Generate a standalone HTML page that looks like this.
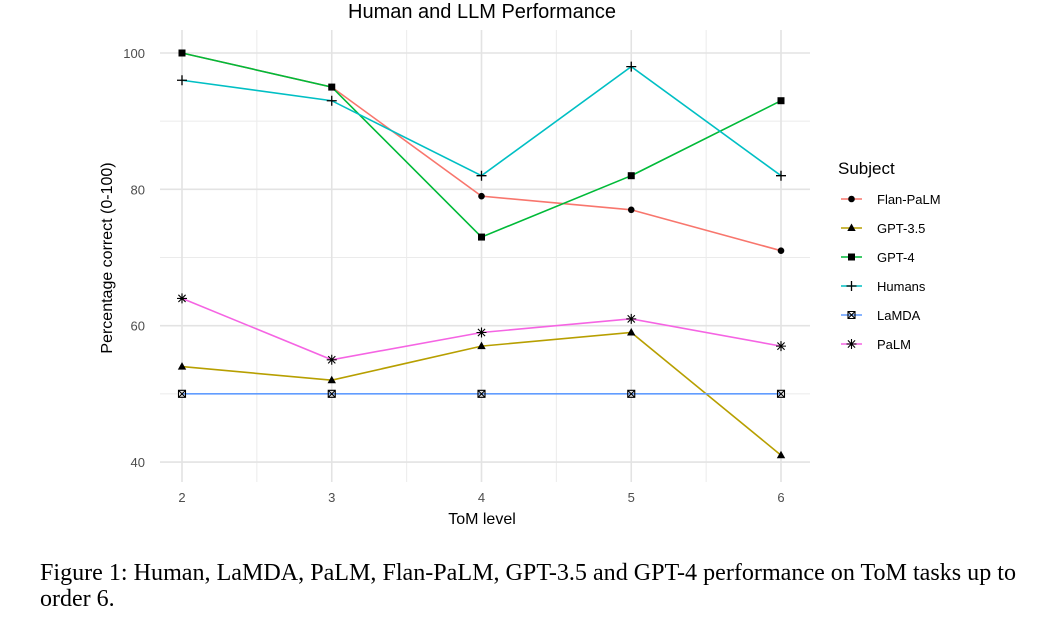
<!DOCTYPE html>
<html><head><meta charset="utf-8"><style>
body{margin:0;background:#fff;width:1050px;height:628px;overflow:hidden}
svg text{font-family:"Liberation Sans",sans-serif}
</style></head><body>
<svg width="1050" height="628">
<g id="grid"></g>
<g id="series"></g>
<text x="482" y="18" text-anchor="middle" font-size="20" fill="#000">Human and LLM Performance</text>
<text x="482" y="524" text-anchor="middle" font-size="16">ToM level</text>
<text transform="translate(112,258) rotate(-90)" text-anchor="middle" font-size="16">Percentage correct (0-100)</text>
<g id="legend"></g>
<text x="40" y="580" font-size="24" textLength="976" lengthAdjust="spacingAndGlyphs" style="font-family:'Liberation Serif',serif">Figure 1: Human, LaMDA, PaLM, Flan-PaLM, GPT-3.5 and GPT-4 performance on ToM tasks up to</text>
<text x="40" y="606" font-size="24" style="font-family:'Liberation Serif',serif">order 6.</text>
</svg>
<script>
const levels=[2,3,4,5,6];
const yTicks=[40,60,80,100];
const names=["Flan-PaLM","GPT-3.5","GPT-4","Humans","LaMDA","PaLM"];
const colors=["#F8766D","#B79F00","#00BA38","#00BFC4","#619CFF","#F564E3"];
const flanPalm=[100,95,79,77,71];
const gpt35=[54,52,57,59,41];
const gpt4=[100,95,73,82,93];
const humans=[96,93,82,98,82];
const lamda=[50,50,50,50,50];
const palm=[64,55,59,61,57];
const seriesData=[flanPalm,gpt35,gpt4,humans,lamda,palm];
const shapes=["circle","triangle","square","plus","boxx","star"];
const NS="http://www.w3.org/2000/svg";
const X=v=>182+(v-2)*149.75;
const Y=v=>53+(100-v)*6.817;
function mk(tag,at,parent){const e=document.createElementNS(NS,tag);for(const k in at)e.setAttribute(k,at[k]);parent.appendChild(e);return e;}
const grid=document.getElementById('grid');
for(let v=2.5;v<6;v+=1){const l=mk('line',{x1:X(v),x2:X(v),y1:30,y2:482,stroke:'#ebebeb','stroke-width':1},grid);

}
for(let v=50;v<100;v+=20){const l=mk('line',{x1:160,x2:810,y1:Y(v),y2:Y(v),stroke:'#ebebeb','stroke-width':1},grid);

}
levels.forEach(v=>{const l=mk('line',{x1:X(v),x2:X(v),y1:30,y2:482,stroke:'#e3e3e3','stroke-width':1.6},grid);


const t=mk('text',{x:X(v),y:502,'text-anchor':'middle','font-size':13,fill:'#4d4d4d'},grid);t.textContent=v;

});
yTicks.forEach(v=>{const l=mk('line',{x1:160,x2:810,y1:Y(v),y2:Y(v),stroke:'#e3e3e3','stroke-width':1.6},grid);


const t=mk('text',{x:145,y:Y(v)+5,'text-anchor':'end','font-size':13,fill:'#4d4d4d'},grid);t.textContent=v;

});
function marker(s,x,y,p){
 if(s=="circle")mk('circle',{cx:x,cy:y,r:3.3,fill:'#000'},p);
 else if(s=="triangle")mk('polygon',{points:`${x},${y-4.5} ${x-4.2},${y+3} ${x+4.2},${y+3}`,fill:'#000'},p);
 else if(s=="square")mk('rect',{x:x-3.5,y:y-3.5,width:7,height:7,fill:'#000'},p);
 else if(s=="plus")mk('path',{d:`M${x-5},${y}H${x+5}M${x},${y-5}V${y+5}`,stroke:'#000','stroke-width':1.3},p);
 else if(s=="boxx")mk('path',{d:`M${x-3.5},${y-3.5}h7v7h-7zM${x-3.5},${y-3.5}l7,7M${x+3.5},${y-3.5}l-7,7`,stroke:'#000',fill:'none','stroke-width':1.1},p);
 else mk('path',{d:`M${x-5},${y}H${x+5}M${x},${y-5}V${y+5}M${x-3.6},${y-3.6}l7.2,7.2M${x+3.6},${y-3.6}l-7.2,7.2`,stroke:'#000','stroke-width':1.1},p);
}
const sg=document.getElementById('series');
[0,1,2,3,4,5].forEach(i=>{
 const g=mk('g',{},sg);
 
 
 const d=seriesData[i].map((v,j)=>(j?'L':'M')+X(levels[j])+','+Y(v)).join('');
 mk('path',{d:d,stroke:colors[i],fill:'none','stroke-width':1.6},g);
 seriesData[i].forEach((v,j)=>marker(shapes[i],X(levels[j]),Y(v),g));
});
const lg=document.getElementById('legend');
const lt=mk('text',{x:838,y:174,'font-size':17},lg);lt.textContent="Subject";


names.forEach((n,i)=>{const y=199+i*29;
 const g=mk('g',{},lg);
 
 
 mk('line',{x1:841,x2:862,y1:y,y2:y,stroke:colors[i],'stroke-width':1.6},g);
 marker(shapes[i],851.5,y,g);
 const t=mk('text',{x:877,y:y+5,'font-size':13},g);t.textContent=n;});
</script>
</body></html>
